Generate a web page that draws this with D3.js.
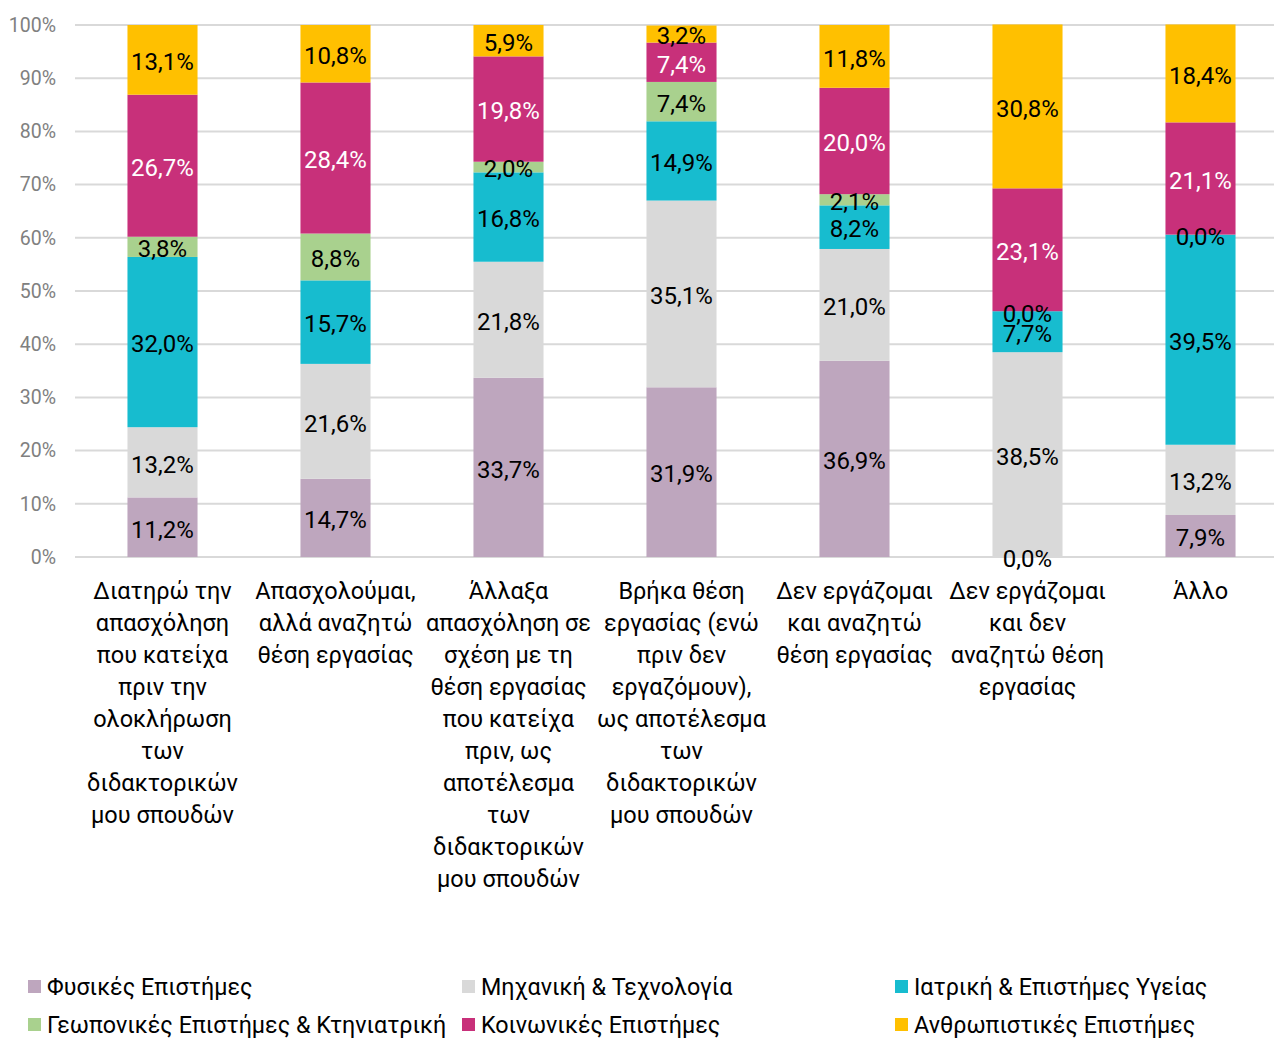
<!DOCTYPE html>
<html>
<head>
<meta charset="utf-8">
<script src="https://cdn.jsdelivr.net/npm/d3@7"></script>
<style>
  html, body { margin: 0; padding: 0; background: #fff; }
  svg { display: block; font-family: Roboto, "DejaVu Sans Condensed", sans-serif; }
</style>
</head>
<body>
<svg id="chart" width="1274" height="1038"></svg>
<script>
// Categories (x axis), each one split into its display lines
const categories = [
  ["Διατηρώ την", "απασχόληση", "που κατείχα", "πριν την", "ολοκλήρωση", "των", "διδακτορικών", "μου σπουδών"],
  ["Απασχολούμαι,", "αλλά αναζητώ", "θέση εργασίας"],
  ["Άλλαξα", "απασχόληση σε", "σχέση με τη", "θέση εργασίας", "που κατείχα", "πριν, ως", "αποτέλεσμα", "των", "διδακτορικών", "μου σπουδών"],
  ["Βρήκα θέση", "εργασίας (ενώ", "πριν δεν", "εργαζόμουν),", "ως αποτέλεσμα", "των", "διδακτορικών", "μου σπουδών"],
  ["Δεν εργάζομαι", "και αναζητώ", "θέση εργασίας"],
  ["Δεν εργάζομαι", "και δεν", "αναζητώ θέση", "εργασίας"],
  ["Άλλο"]
];

// Series names, bottom to top
const seriesNames = [
  "Φυσικές Επιστήμες",
  "Μηχανική & Τεχνολογία",
  "Ιατρική & Επιστήμες Υγείας",
  "Γεωπονικές Επιστήμες & Κτηνιατρική",
  "Κοινωνικές Επιστήμες",
  "Ανθρωπιστικές Επιστήμες"
];

// Percentages per series, one value per category
const fysikes       = [11.2, 14.7, 33.7, 31.9, 36.9, 0.0, 7.9];
const mixaniki      = [13.2, 21.6, 21.8, 35.1, 21.0, 38.5, 13.2];
const iatriki       = [32.0, 15.7, 16.8, 14.9, 8.2, 7.7, 39.5];
const geoponikes    = [3.8, 8.8, 2.0, 7.4, 2.1, 0.0, 0.0];
const koinonikes    = [26.7, 28.4, 19.8, 7.4, 20.0, 23.1, 21.1];
const anthropistikes = [13.1, 10.8, 5.9, 3.2, 11.8, 30.8, 18.4];

const seriesValues = [fysikes, mixaniki, iatriki, geoponikes, koinonikes, anthropistikes];
const seriesColors = ["#bea6be", "#d9d9d9", "#17bccf", "#a9d18e", "#c8307a", "#ffc000"];
const labelColors  = ["#000", "#000", "#000", "#000", "#fff", "#000"];

const yTicks = [0, 10, 20, 30, 40, 50, 60, 70, 80, 90, 100];

const svg = d3.select("#chart");
const plot = { left: 76, right: 1287, top: 25, bottom: 557 };

const x = d3.scaleBand()
  .domain(d3.range(categories.length))
  .range([plot.left, plot.right])
  .paddingInner(0.595)
  .paddingOuter(0.2975);

const y = d3.scaleLinear().domain([0, 100]).range([plot.bottom, plot.top]);

// gridlines
svg.append("g")
  .selectAll("line")
  .data(yTicks)
  .join("line")
  .attr("x1", 75)
  .attr("x2", 1274)
  .attr("y1", d => y(d))
  .attr("y2", d => y(d))
  .attr("stroke", "#d9d9d9")
  .attr("stroke-width", 2);

// y axis labels
const yAxis = d3.axisLeft(y).tickValues(yTicks).tickSize(0).tickPadding(0).tickFormat(d => d + "%");
svg.append("g")
  .attr("transform", `translate(56,0)`)
  .call(yAxis)
  .call(g => g.select(".domain").remove())
  .call(g => g.selectAll("text")
    .attr("fill", "#808080")
    .attr("font-size", 19.5)
    .attr("font-family", "Roboto, sans-serif"));

// stacked data
const rows = categories.map((c, i) => {
  const r = { idx: i };
  seriesNames.forEach((s, k) => r[s] = seriesValues[k][i]);
  return r;
});
const stacked = d3.stack().keys(seriesNames)(rows);

const layers = svg.append("g")
  .selectAll("g")
  .data(stacked)
  .join("g")
  .attr("fill", (d, k) => seriesColors[k]);

layers.selectAll("rect")
  .data(d => d)
  .join("rect")
  .attr("x", d => x(d.data.idx))
  .attr("width", x.bandwidth())
  .attr("y", d => y(d[1]))
  .attr("height", d => y(d[0]) - y(d[1]));

// value labels
const fmt = v => v.toFixed(1).replace(".", ",") + "%";
const labelLayers = svg.append("g")
  .selectAll("g")
  .data(stacked)
  .join("g");

labelLayers.each(function (layer, k) {
  d3.select(this).selectAll("text")
    .data(layer)
    .join("text")
    .attr("x", d => x(d.data.idx) + x.bandwidth() / 2)
    .attr("y", d => y((d[0] + d[1]) / 2))
    .attr("dy", "0.43em")
    .attr("text-anchor", "middle")
    .attr("font-size", 24)
    .attr("fill", d => (d[1] - d[0]) > 0 ? labelColors[k] : "#000")
    .text(d => fmt(d.data[layer.key]));
});

// category labels
const catG = svg.append("g");
categories.forEach((lines, i) => {
  const t = catG.append("text")
    .attr("text-anchor", "middle")
    .attr("font-size", 23.5)
    .attr("fill", "#000");
  lines.forEach((ln, j) => {
    t.append("tspan")
      .attr("x", x(i) + x.bandwidth() / 2)
      .attr("y", 599 + j * 32)
      .text(ln);
  });
});

// legend
const legendPos = [
  [28, 987], [462, 987], [895, 987],
  [28, 1025], [462, 1025], [895, 1025]
];
const legend = svg.append("g")
  .selectAll("g")
  .data(seriesNames)
  .join("g")
  .attr("transform", (d, k) => `translate(${legendPos[k][0]},${legendPos[k][1]})`);
legend.append("rect")
  .attr("x", 0).attr("y", -7).attr("width", 13).attr("height", 13)
  .attr("fill", (d, k) => seriesColors[k]);
legend.append("text")
  .attr("x", 19)
  .attr("dy", "0.35em")
  .attr("font-size", 23.3)
  .attr("fill", "#000")
  .text(d => d);
</script>
</body>
</html>
